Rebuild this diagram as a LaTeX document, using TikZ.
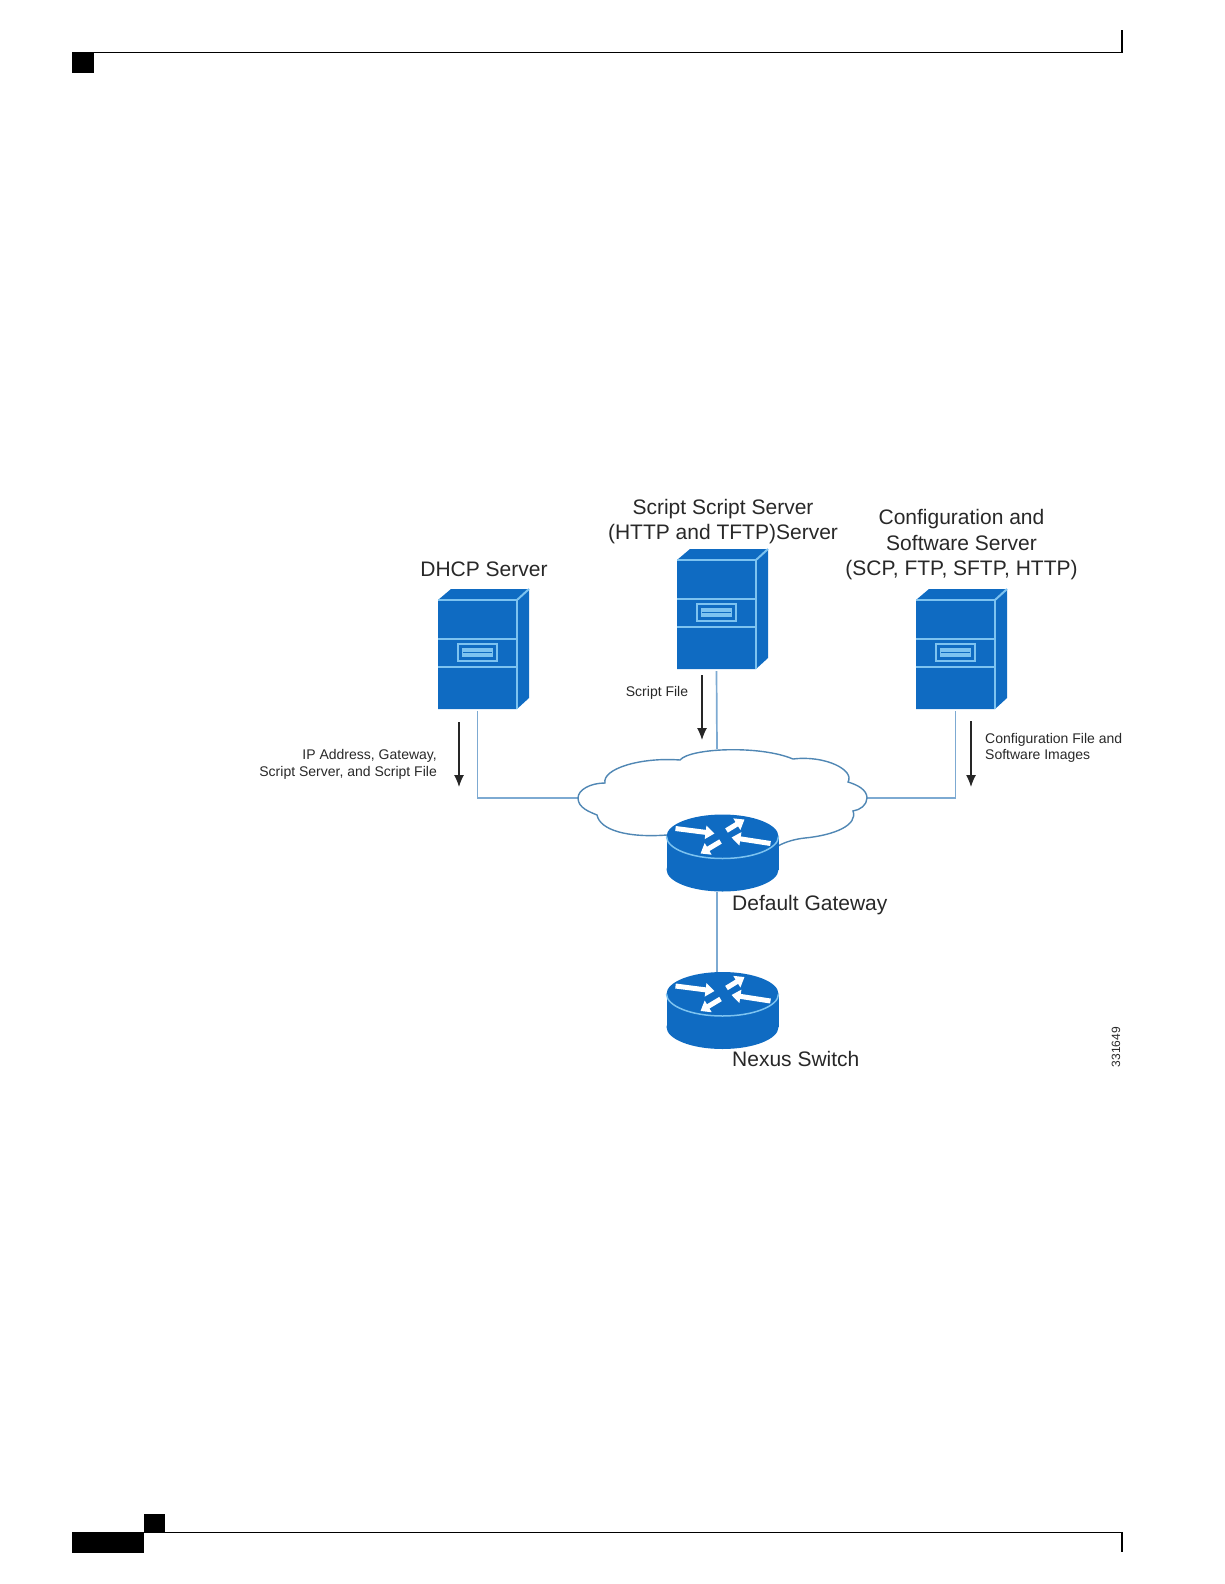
\documentclass[tikz,border=0pt]{standalone}
\usepackage{fontspec}
\setmainfont{Liberation Sans}
\usetikzlibrary{arrows.meta}
\definecolor{ciscoBlue}{RGB}{15,107,194}
\definecolor{edgeLight}{RGB}{125,195,240}
\definecolor{linkBlue}{RGB}{125,170,210}
\definecolor{cloudBlue}{RGB}{80,135,180}
\definecolor{labelGray}{RGB}{40,40,40}
\tikzset{
  bigLabel/.style={text=labelGray, align=center, inner sep=0pt, font=\fontsize{21}{25.5}\selectfont},
  smallLabel/.style={text=labelGray, inner sep=0pt, font=\fontsize{14}{16.5}\selectfont},
  link/.style={linkBlue, line width=1.7pt},
  flow/.style={black!85, line width=1.2pt, -{Latex[length=12pt,width=10pt]}},
  furniture/.style={black, line width=1.4pt},
  server/.pic={
    \fill[ciscoBlue] (0,0) -- (13,-11) -- (91,-11) -- (91,98) -- (79,109) -- (0,109) -- cycle;
    \draw[edgeLight, line width=2.2pt] (0,0) -- (79,0) -- (79,109);
    \draw[edgeLight, line width=2pt] (79,0) -- (91,-11);
    \draw[edgeLight, line width=2.2pt] (0,39) -- (79,39) (0,67) -- (79,67);
    \draw[edgeLight, line width=2.2pt] (20,44) rectangle (59,61);
    \fill[edgeLight] (24,48) rectangle (55,57);
    \draw[ciscoBlue, line width=1.2pt] (25,52.5) -- (54,52.5);
    \coordinate (-bottom) at (39.5,111);
  },
  router/.pic={
    \fill[ciscoBlue] (0,33) ellipse [x radius=56, y radius=22];
    \fill[ciscoBlue] (-56,0) rectangle (56,33);
    \fill[ciscoBlue] (0,0) ellipse [x radius=56, y radius=22];
    \draw[edgeLight, line width=1.5pt] (-56,0) arc [start angle=180, end angle=0, x radius=56, y radius=22];
    \foreach \tx/\ty/\hx/\hy in {-47/-8/-8/-3, 4/-6/22/-17, 48/7/9/1, -2/5/-22/17}
      \draw[white, line width=5pt, -{Triangle[length=9pt,width=13pt]}] (\tx,\ty) -- (\hx,\hy);
    \coordinate (-top) at (-5.5,-22);
    \coordinate (-bottom) at (-5.5,55);
  }
}
\begin{document}
\begin{tikzpicture}[x=1pt,y=-1pt]
  \useasboundingbox (0,0) rectangle (1224,1584);
  % page furniture
  \fill[black] (72,52) rectangle (94,73);
  \draw[furniture] (72,52.5) -- (1122,52.5) -- (1122,30);
  \fill[black] (72,1532) rectangle (144,1553);
  \fill[black] (144,1514) rectangle (165,1532);
  \draw[furniture] (144,1532.5) -- (1122,1532.5);
  \draw[furniture] (1122,1532) -- (1122,1552);

  % cloud
  \coordinate (cloudW) at (578,798);
  \coordinate (cloudE) at (867,798);
  \coordinate (cloudN) at (717,749);
  \pic (dhcp) at (438,600) {server};
  \pic (script) at (677,560) {server};
  \pic (config) at (916,600) {server};
  \draw[link] (dhcp-bottom) |- (cloudW);
  \draw[link] (config-bottom) |- (cloudE);
  \draw[link] (script-bottom) -- (cloudN);
  \draw[cloudBlue, fill=white, line width=1.4pt] (cloudW)
    .. controls (578,790) and (590,783) .. (605,783)
    .. controls (602,769) and (640,757) .. (680,760)
    .. controls (690,748) and (760,745) .. (793,759)
    .. controls (825,755) and (855,770) .. (848,782)
    .. controls (858,785) and (867,790) .. (cloudE)
    .. controls (867,805) and (860,810) .. (853,811)
    .. controls (858,825) and (835,835) .. (805,838)
    .. controls (795,839) and (785,842) .. (778,846)
    -- (667,835)
    .. controls (627,838) and (600,830) .. (597,815)
    .. controls (590,812) and (578,808) .. (cloudW);

  \pic (gateway) at (722.5,836.5) {router};
  \pic (nexus) at (722.5,994) {router};
  \draw[link] (gateway-bottom) -- (nexus-top);

  % flows
  \coordinate (flowA) at (459,722);
  \coordinate (flowB) at (702,675);
  \coordinate (flowC) at (971,721);
  \draw[flow] (flowA) -- +(0,65);
  \draw[flow] (flowB) -- +(0,65);
  \draw[flow] (flowC) -- +(0,66);

  % labels
  \node[bigLabel] (dhcpLabel) at (484,569) {DHCP Server};
  \node[bigLabel] (scriptLabel) at (723,521.5) {Script Script Server\\(HTTP and TFTP)Server};
  \node[bigLabel] (configLabel) at (961.5,545) {Configuration and\\Software Server\\(SCP, FTP, SFTP, HTTP)};
  \node[smallLabel, anchor=east, align=right] (dhcpFlow) at (437,764.5) {IP Address, Gateway,\\Script Server, and Script File};
  \node[smallLabel] (scriptFlow) at (657,693) {Script File};
  \node[smallLabel, anchor=west, align=left] (configFlow) at (985,748) {Configuration File and\\Software Images};
  \node[bigLabel, anchor=west] (gatewayLabel) at (732,905) {Default Gateway};
  \node[bigLabel, anchor=west] (nexusLabel) at (732,1059) {Nexus Switch};
  \node[smallLabel, rotate=90, font=\fontsize{12}{14}\selectfont] (figId) at (1116,1047) {331649};
\end{tikzpicture}
\end{document}
